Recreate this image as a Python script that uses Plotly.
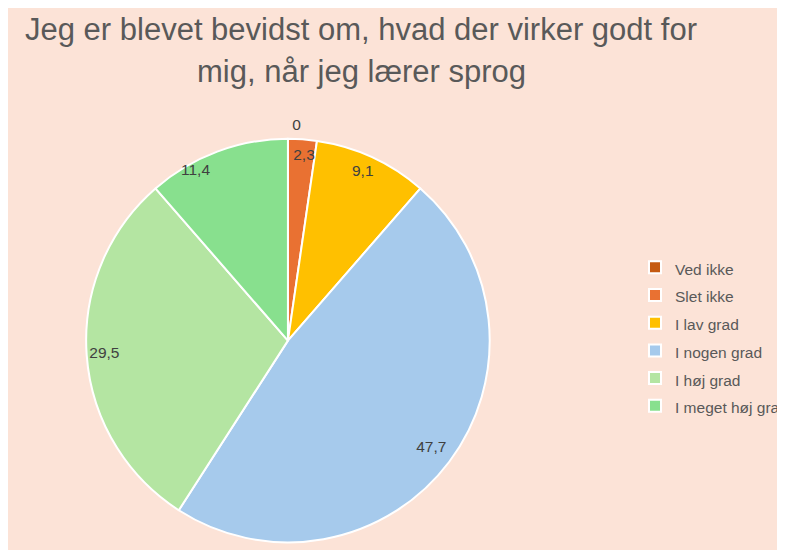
import plotly.graph_objects as go

categories = ["Ved ikke", "Slet ikke", "I lav grad", "I nogen grad", "I høj grad", "I meget høj grad"]
values = [0, 2.3, 9.1, 47.7, 29.5, 11.4]
colors = ["#C55A11", "#E97132", "#FFC000", "#A6CAEC", "#B4E5A2", "#88E08E"]
title_lines = ["Jeg er blevet bevidst om, hvad der virker godt for", "mig, når jeg lærer sprog"]

# label placement (style): radius of the label ring and angular nudge (degrees) per slice
label_radius = [212.5, 181.5, 177.5, 164.5, 168.5, 183.5]
label_nudge = [0.0, -3.8, -4.5, 2.6, 0.0, -3.6]

W, H = 785, 550
labels_txt = [("%g" % v).replace(".", ",") for v in values]
legend_labels = ['<span style="font-size:15.5px">%s</span>' % c for c in categories]

LABEL_FONT = dict(family="Liberation Sans, Arial, sans-serif", size=15.5, color="#404040")

# pie geometry (figure pixels)
cx, cy, R = 286.5, 337.5, 206.5

def dom(r):
    return dict(x=[(cx - r) / W, (cx + r) / W], y=[1 - (cy + r) / H, 1 - (cy - r) / H])

fig = go.Figure()
fig.add_trace(go.Pie(
    labels=legend_labels,
    values=values,
    text=labels_txt,
    textinfo="none",
    marker=dict(colors=colors, line=dict(color="white", width=2)),
    sort=False,
    direction="clockwise",
    rotation=0,
    domain=dom(R),
    hovertemplate="%{text}<extra></extra>",
))
# transparent carrier pies, one per data label, placing each label near the rim
for i in range(len(values)):
    fig.add_trace(go.Pie(
        labels=legend_labels,
        values=values,
        text=labels_txt,
        texttemplate="%{text}",
        textposition=["outside" if j == i else "none" for j in range(len(values))],
        textfont=LABEL_FONT,
        marker=dict(colors=["rgba(0,0,0,0)"] * len(values), line=dict(width=0)),
        sort=False,
        direction="clockwise",
        rotation=label_nudge[i],
        domain=dom(label_radius[i]),
        showlegend=False,
        hoverinfo="skip",
    ))

fig.update_layout(
    width=W, height=H,
    margin=dict(l=0, r=0, t=0, b=0),
    paper_bgcolor="#FCE3D7",
    plot_bgcolor="rgba(0,0,0,0)",
    legend=dict(
        x=642 / W, xanchor="left",
        y=1 - 244 / H, yanchor="top",
        bgcolor="rgba(0,0,0,0)",
        font=dict(family="Liberation Sans, Arial, sans-serif", size=19, color="#595959"),
        traceorder="normal",
    ),
    annotations=[
        dict(text=title_lines[0], x=361 / W, y=1 - 22 / H, xref="paper", yref="paper",
             xanchor="center", yanchor="middle", showarrow=False,
             font=dict(family="Liberation Sans Narrow, Arial Narrow, sans-serif", size=31, color="#595959")),
        dict(text=title_lines[1], x=362 / W, y=1 - 64 / H, xref="paper", yref="paper",
             xanchor="center", yanchor="middle", showarrow=False,
             font=dict(family="Liberation Sans Narrow, Arial Narrow, sans-serif", size=31, color="#595959")),
    ],
)

fig.write_html("out.html")
